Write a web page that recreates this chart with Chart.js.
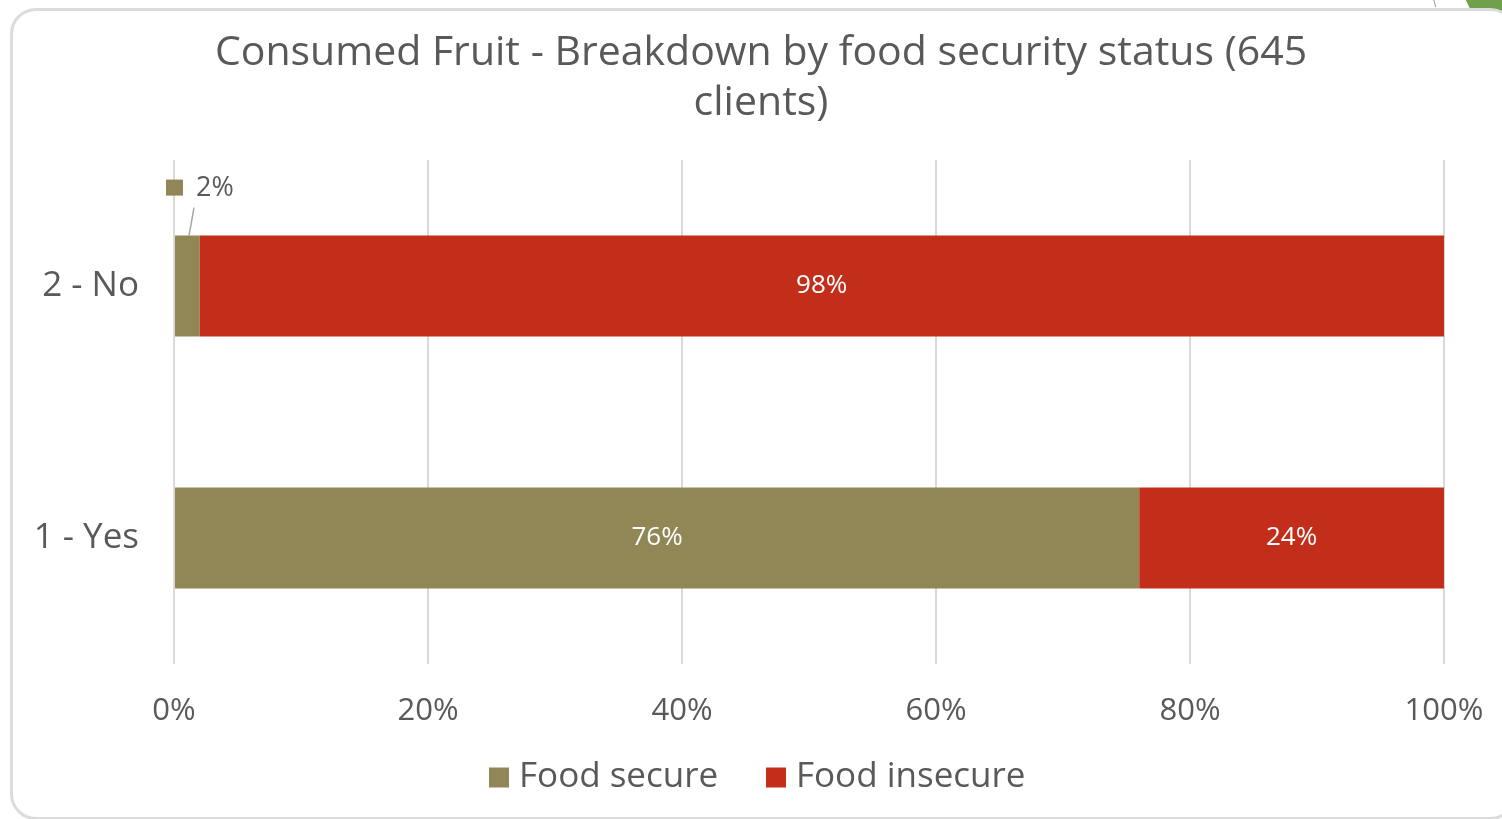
<!DOCTYPE html>
<html>
<head>
<meta charset="utf-8">
<title>Consumed Fruit</title>
<script src="https://cdn.jsdelivr.net/npm/chart.js@4.4.1/dist/chart.umd.min.js"></script>
<style>
  html, body { margin: 0; padding: 0; background: #fff; }
  body { width: 1502px; height: 819px; position: relative; overflow: hidden; }
  .blob { position: absolute; left: 1460px; top: -110px; width: 160px; height: 160px; border-radius: 50%; background: #70a04b; }
  .hairline { position: absolute; left: 1434px; top: -2px; width: 1px; height: 9px; background: #9a9a9a; transform: rotate(-15deg); }
  .frame { position: absolute; left: 10px; top: 8px; width: 1500px; height: 806px; border: 3px solid #dcdcdc; border-radius: 26px; background: #fff; }
  #wrap { position: absolute; left: 0; top: 0; width: 1502px; height: 819px; }
</style>
</head>
<body>
<div class="blob"></div>
<div class="hairline"></div>
<div class="frame"></div>
<div id="wrap"><canvas id="fruitChart"></canvas></div>
<script>
  // Consumed fruit answers, split by food security status (share of clients, %)
  const categories = ['2 - No', '1 - Yes'];
  const foodSecure = [2, 76];
  const foodInsecure = [98, 24];
  const tickLabels = ['0%', '20%', '40%', '60%', '80%', '100%'];

  const textGray = '#595959';
  Chart.defaults.font.family = '"Open Sans", sans-serif';

  // writes the percentage on each bar segment; tiny segments get a callout above the bar
  const barLabels = {
    id: 'barLabels',
    afterDatasetsDraw(chart) {
      const ctx = chart.ctx;
      chart.data.datasets.forEach((ds, i) => {
        const meta = chart.getDatasetMeta(i);
        meta.data.forEach((bar, j) => {
          const v = ds.data[j];
          const text = Math.round(v) + '%';
          ctx.save();
          if (v >= 5) {
            ctx.font = '26px "Open Sans"';
            ctx.fillStyle = '#ffffff';
            ctx.textAlign = 'center';
            ctx.textBaseline = 'middle';
            ctx.fillText(text, (bar.x + bar.base) / 2, bar.y);
          } else {
            const top = bar.y - bar.height / 2;
            const x0 = Math.min(bar.x, bar.base);
            ctx.strokeStyle = '#a6a6a6';
            ctx.lineWidth = 1.5;
            ctx.beginPath();
            ctx.moveTo(x0 + 19, top - 28);
            ctx.lineTo(x0 + 14, top);
            ctx.stroke();
            ctx.fillStyle = ds.backgroundColor;
            ctx.fillRect(x0 - 9, top - 56, 17, 16);
            ctx.fillStyle = textGray;
            ctx.font = '27px "Open Sans"';
            ctx.textAlign = 'left';
            ctx.textBaseline = 'middle';
            ctx.fillText(text, x0 + 21, top - 47);
          }
          ctx.restore();
        });
      });
    }
  };

  const ctx = document.getElementById('fruitChart').getContext('2d');
  const chart = new Chart(ctx, {
    type: 'bar',
    data: {
      labels: categories,
      datasets: [
        {
          label: 'Food secure',
          data: foodSecure,
          backgroundColor: '#918656',
          borderWidth: 0,
          categoryPercentage: 1,
          barPercentage: 0.4
        },
        {
          label: 'Food insecure',
          data: foodInsecure,
          backgroundColor: '#c32e1a',
          borderWidth: 0,
          categoryPercentage: 1,
          barPercentage: 0.4
        }
      ]
    },
    options: {
      indexAxis: 'y',
      responsive: true,
      maintainAspectRatio: false,
      animation: false,
      layout: {
        padding: { left: 20, right: 0, top: 0, bottom: 14 }
      },
      plugins: {
        title: {
          display: true,
          text: ['Consumed Fruit - Breakdown by food security status (645', 'clients)'],
          color: textGray,
          font: { size: 41, weight: 'normal', lineHeight: '50px' },
          padding: { top: 28, bottom: 32 }
        },
        legend: {
          position: 'bottom',
          maxHeight: 80,
          labels: {
            usePointStyle: true,
            pointStyle: 'rect',
            boxWidth: 5,
            boxHeight: 20,
            padding: 28,
            color: textGray,
            font: { size: 35 },
            generateLabels(chart) {
              const items = Chart.defaults.plugins.legend.labels.generateLabels(chart);
              // a little extra room after the first entry
              items[0].text += '   ';
              return items;
            }
          }
        },
        tooltip: { enabled: false }
      },
      scales: {
        x: {
          stacked: true,
          min: 0,
          max: 100,
          ticks: {
            stepSize: 20,
            color: textGray,
            font: { size: 31 },
            padding: 29,
            callback: (v, i) => tickLabels[i]
          },
          grid: { color: '#d9d9d9', lineWidth: 2, drawTicks: false },
          border: { display: false },
          afterFit(scale) {
            scale.height = 68;
            scale.paddingLeft = 0;
            scale.paddingRight = 0;
          }
        },
        y: {
          stacked: true,
          ticks: {
            color: textGray,
            font: { size: 35 },
            padding: 35
          },
          grid: { display: false, drawTicks: false },
          border: { display: false },
          afterFit(scale) { scale.width = 154; }
        },
        // empty right-hand gutter so the plot ends short of the frame
        gutter: {
          type: 'linear',
          axis: 'y',
          position: 'right',
          ticks: { display: false },
          grid: { display: false, drawTicks: false },
          border: { display: false },
          afterFit(scale) { scale.width = 58; }
        }
      }
    },
    plugins: [barLabels]
  });
</script>
</body>
</html>
